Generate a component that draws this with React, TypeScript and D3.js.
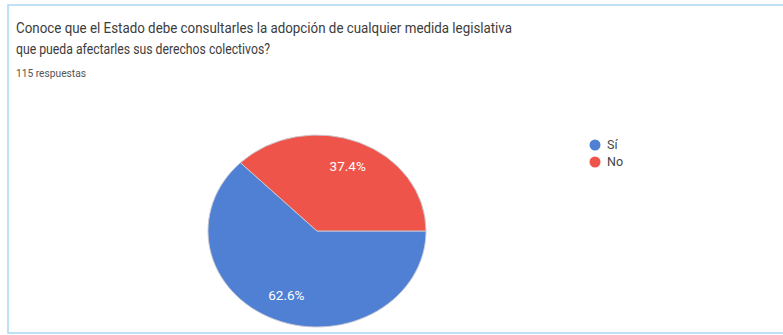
import React from "react";
import * as d3 from "d3";

const titleLines = [
  "Conoce que el Estado debe consultarles la adopción de cualquier medida legislativa",
  "que pueda afectarles sus derechos colectivos?",
];
const subtitle = "115 respuestas";
const categories = ["Sí", "No"];
const values = [62.6, 37.4];
const colors = ["#4f80d4", "#ee5449"];

const W = 783;
const H = 335;

export default function App() {
  const cx = 317;
  const cy = 231;
  const rx = 109;
  const ry = 96;
  const sy = ry / rx;

  const pie = d3
    .pie<number>()
    .sort(null)
    .startAngle(Math.PI / 2)
    .endAngle(Math.PI / 2 + 2 * Math.PI)(values);
  const arc = d3.arc<d3.PieArcDatum<number>>().innerRadius(0).outerRadius(rx);
  const labelR = 0.73;

  return (
    <svg
      width={W}
      height={H}
      style={{ position: "absolute", left: 0, top: 0, background: "#fff" }}
      fontFamily="Roboto, 'Liberation Sans', sans-serif"
    >
      <rect x={8} y={5} width={800} height={328} fill="#fff" stroke="#a9d8f0" strokeWidth={1.5} />
      <text x={16} y={33} fontSize={14.5} fill="#3c3c3c" textLength={496} lengthAdjust="spacingAndGlyphs">
        {titleLines[0]}
      </text>
      <text x={16} y={54} fontSize={14.5} fill="#3c3c3c" textLength={254} lengthAdjust="spacingAndGlyphs">
        {titleLines[1]}
      </text>
      <text x={16} y={77} fontSize={10} fill="#555" textLength={70} lengthAdjust="spacingAndGlyphs">
        {subtitle}
      </text>
      <g transform={`translate(${cx},${cy}) scale(1,${sy})`}>
        {pie.map((d, i) => (
          <path key={i} d={arc(d) || ""} fill={colors[i]} stroke="#c9c9d2" strokeWidth={1} />
        ))}
      </g>
      {pie.map((d, i) => {
        const a = (d.startAngle + d.endAngle) / 2;
        const x = cx + Math.sin(a) * rx * labelR;
        const y = cy - Math.cos(a) * ry * labelR;
        return (
          <text
            key={i}
            x={x}
            y={y}
            dy="0.35em"
            textAnchor="middle"
            fontSize={13.5}
            fill="#ffffff"
          >
            {`${values[i].toFixed(1)}%`}
          </text>
        );
      })}
      {categories.map((c, i) => (
        <g key={c} transform={`translate(595,${145 + i * 17})`}>
          <circle r={5.5} fill={colors[i]} />
          <text x={12} dy="0.35em" fontSize={12.5} fill="#444">
            {c}
          </text>
        </g>
      ))}
    </svg>
  );
}
